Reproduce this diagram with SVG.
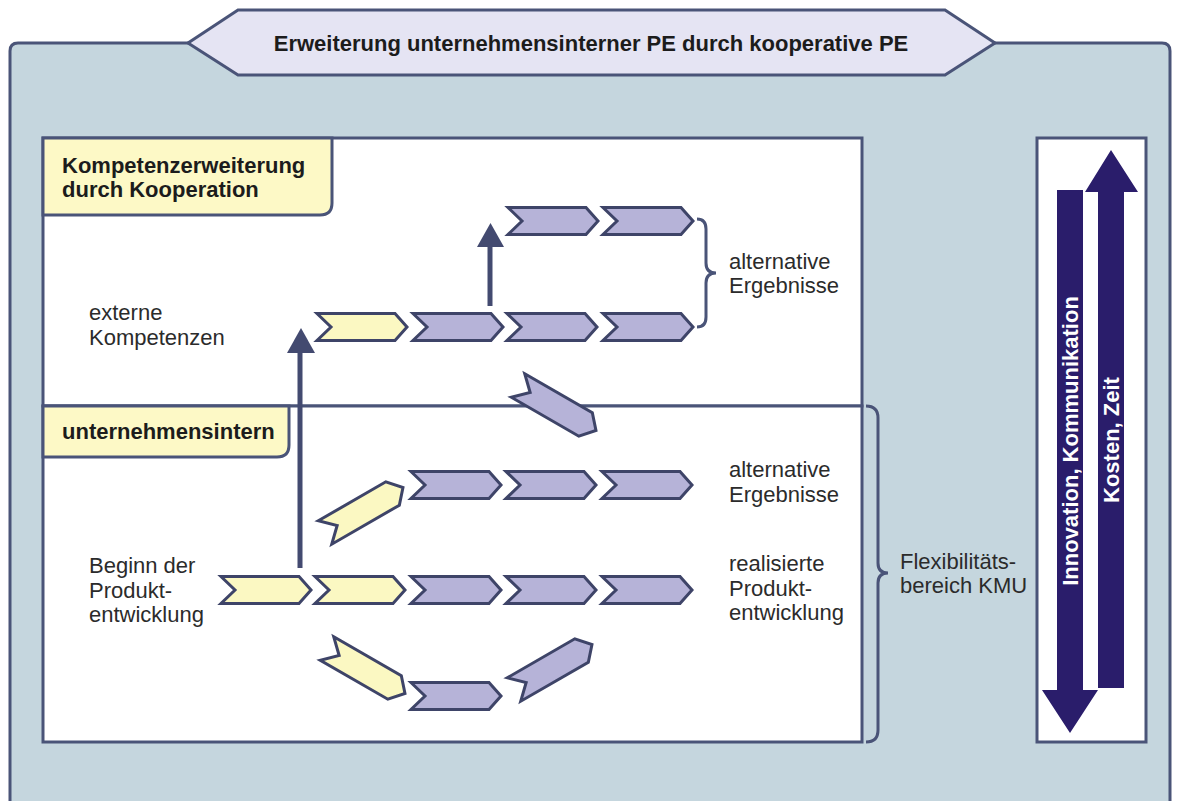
<svg xmlns="http://www.w3.org/2000/svg" width="1179" height="801" viewBox="0 0 1179 801">
<defs>
<style>
.frame{stroke:#4a5478;stroke-width:3;}
.t{font-family:"Liberation Sans",Arial,sans-serif;font-size:22px;fill:#2b2b2b;}
.b{font-family:"Liberation Sans",Arial,sans-serif;font-size:22px;font-weight:bold;fill:#1c1c1c;}
.w{font-family:"Liberation Sans",Arial,sans-serif;font-size:22px;font-weight:bold;fill:#ffffff;}
.cy{fill:#fbf8c2;stroke:#3e4468;stroke-width:3;stroke-linejoin:miter;}
.cp{fill:#b6b3d8;stroke:#3e4468;stroke-width:3;stroke-linejoin:miter;}
.ln{stroke:#434a70;stroke-width:5;fill:none;}
.brace{stroke:#4a5478;stroke-width:3;fill:none;}
.navy{fill:#2a1d6b;}
</style>
<path id="chev" d="M-45,-13.5 L33,-13.5 L45,0 L33,13.5 L-45,13.5 L-31,0 Z"/>
</defs>

<g id="background">
<path class="frame" d="M10,810 V51 Q10,43 18,43 H1162 Q1170,43 1170,51 V810" fill="#c5d6de"/>
</g>

<g id="title">
<polygon class="frame" points="188,43 238,10 945,10 995,43 945,75 238,75" fill="#e5e4f3"/>
<text class="b" x="591" y="51" text-anchor="middle">Erweiterung unternehmensinterner PE durch kooperative PE</text>
</g>

<g id="box-cooperation">
<rect class="frame" x="43" y="138" width="819" height="268" fill="#ffffff"/>
</g>
<g id="box-internal">
<rect class="frame" x="43" y="406" width="819" height="336" fill="#ffffff"/>
</g>

<g id="label-cooperation">
<path class="frame" d="M43,138 H332 V203 Q332,215 320,215 H43 Z" fill="#fdf9c6"/>
<text class="b" x="62" y="173">Kompetenzerweiterung</text>
<text class="b" x="62" y="197">durch Kooperation</text>
</g>
<g id="label-internal">
<path class="frame" d="M43,406 H289 V445 Q289,457 277,457 H43 Z" fill="#fdf9c6"/>
<text class="b" x="62" y="439">unternehmensintern</text>
</g>

<g id="connectors">
<line class="ln" x1="300" y1="568" x2="300" y2="350"/>
<polygon points="287,353 315,353 301,328" fill="#434a70"/>
<line class="ln" x1="490" y1="306" x2="490" y2="244"/>
<polygon points="477,247 504,247 490.5,223" fill="#434a70"/>
<path class="brace" d="M697,219 Q706,219 706,229 L706,263 Q706,273 716,273 Q706,273 706,283 L706,317 Q706,327 697,327"/>
<path class="brace" d="M866,406 Q878,406 878,418 L878,563 Q878,573 888,573 Q878,573 878,583 L878,730 Q878,742 866,742"/>
</g>

<g id="row-external">
<use href="#chev" class="cy" x="362" y="327"/>
<use href="#chev" class="cp" x="458" y="327"/>
<use href="#chev" class="cp" x="552" y="327"/>
<use href="#chev" class="cp" x="648" y="327"/>
</g>
<g id="row-top">
<use href="#chev" class="cp" x="553" y="221"/>
<use href="#chev" class="cp" x="648" y="221"/>
</g>
<g id="crossing-chevron">
<use href="#chev" class="cp" transform="translate(557,408) rotate(30)"/>
</g>
<g id="row-internal-alt">
<use href="#chev" class="cy" transform="translate(364,510) rotate(-30)"/>
<use href="#chev" class="cp" x="456" y="485"/>
<use href="#chev" class="cp" x="551" y="485"/>
<use href="#chev" class="cp" x="647" y="485"/>
</g>
<g id="row-main">
<use href="#chev" class="cy" x="266" y="590"/>
<use href="#chev" class="cy" x="360" y="590"/>
<use href="#chev" class="cp" x="456" y="590"/>
<use href="#chev" class="cp" x="551" y="590"/>
<use href="#chev" class="cp" x="647" y="590"/>
</g>
<g id="row-lower">
<use href="#chev" class="cy" transform="translate(366,671) rotate(30)"/>
<use href="#chev" class="cp" x="456" y="696"/>
<use href="#chev" class="cp" transform="translate(553,667) rotate(-30)"/>
</g>

<g id="texts">
<text class="t" x="89" y="320">externe</text>
<text class="t" x="89" y="345">Kompetenzen</text>
<text class="t" x="729" y="269">alternative</text>
<text class="t" x="729" y="293">Ergebnisse</text>
<text class="t" x="729" y="477">alternative</text>
<text class="t" x="729" y="502">Ergebnisse</text>
<text class="t" x="89" y="573">Beginn der</text>
<text class="t" x="89" y="598">Produkt-</text>
<text class="t" x="89" y="622">entwicklung</text>
<text class="t" x="729" y="571">realisierte</text>
<text class="t" x="729" y="596">Produkt-</text>
<text class="t" x="729" y="620">entwicklung</text>
<text class="t" x="900" y="569">Flexibilitäts-</text>
<text class="t" x="900" y="593">bereich KMU</text>
</g>

<g id="right-panel">
<rect class="frame" x="1037" y="138" width="109" height="604" fill="#ffffff"/>
<polygon class="navy" points="1057,190 1083,190 1083,690 1098,690 1070,733 1042,690 1057,690"/>
<polygon class="navy" points="1098,688 1124,688 1124,192 1138,192 1111,150 1085,192 1098,192"/>
<text class="w" transform="translate(1078,441) rotate(-90)" text-anchor="middle">Innovation, Kommunikation</text>
<text class="w" transform="translate(1119,440) rotate(-90)" text-anchor="middle">Kosten, Zeit</text>
</g>
</svg>
